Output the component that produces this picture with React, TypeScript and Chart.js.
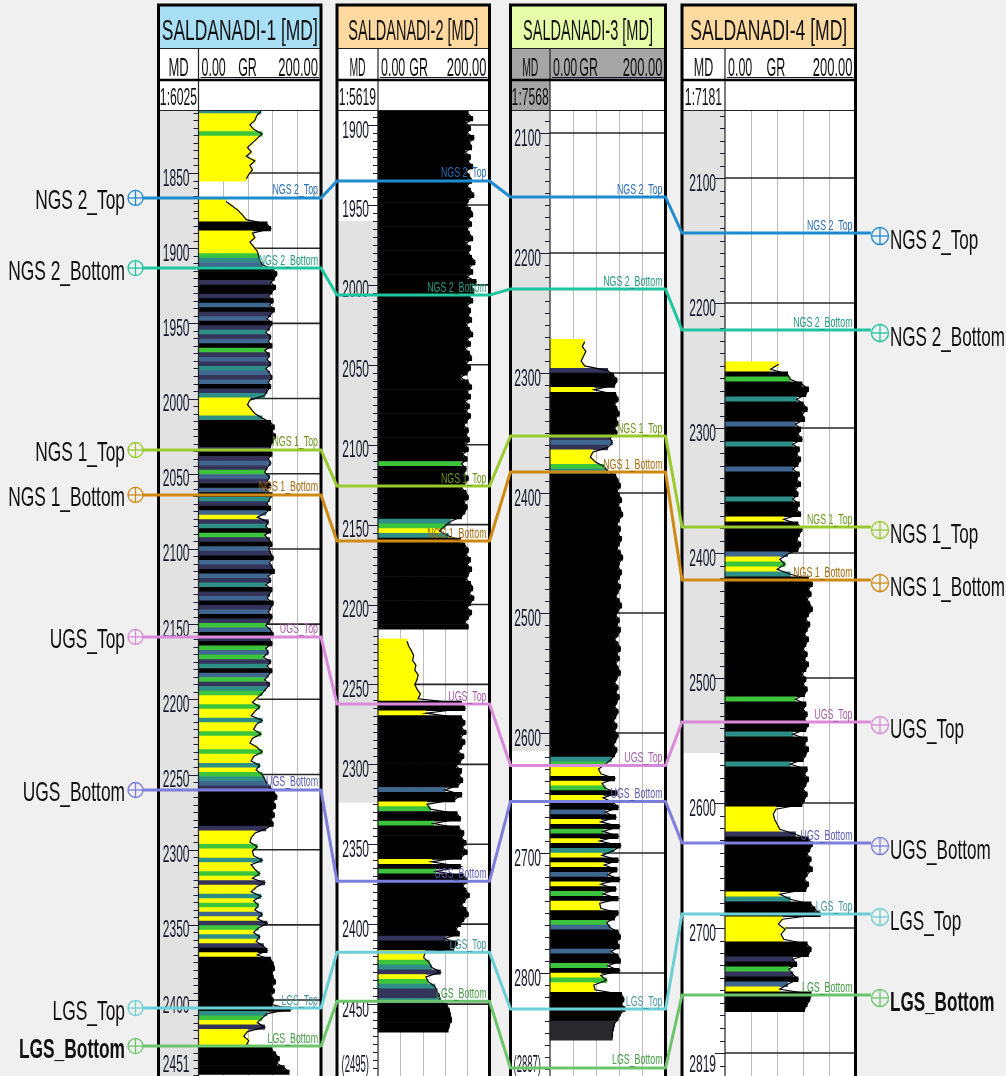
import React, { useEffect, useRef } from 'react';
import { Chart, registerables } from 'chart.js';

Chart.register(...registerables);

// ---------------- data ----------------
const WELL_NAMES = ['SALDANADI-1 [MD]', 'SALDANADI-2 [MD]', 'SALDANADI-3 [MD]', 'SALDANADI-4 [MD]'];
const WELL_SCALE_TEXT = ['1:6025', '1:5619', '1:7568', '1:7181'];
const DEPTH_TOP = [1808.1, 1890.6, 2080.8, 2045.6];
const DEPTH_BOTTOM = [2450.5, 2495.0, 2885.8, 2818.4];
const BOTTOM_LABEL = ['2451', '(2495)', '(2887)', '2819'];
const W1_TICKS = [1850, 1900, 1950, 2000, 2050, 2100, 2150, 2200, 2250, 2300, 2350, 2400];
const W2_TICKS = [1900, 1950, 2000, 2050, 2100, 2150, 2200, 2250, 2300, 2350, 2400, 2450];
const W3_TICKS = [2100, 2200, 2300, 2400, 2500, 2600, 2700, 2800];
const W4_TICKS = [2100, 2200, 2300, 2400, 2500, 2600, 2700, 2800];
const MINOR_STEP = [5, 5, 10, 10];
const MD_SHADE = [[1808, 2451], [1960, 2324], [2080, 2615], [2045, 2560]];
const GR_MIN = 0;
const GR_MAX = 200;
const GR_GRID = [40, 80, 120, 160];

const LOG_START = [1809, 1893, 2274, 2249];
const LOG_STEP = [3, 3, 4, 4];

const W1_GR = [
  102, 95, 92, 84, 90, 104, 96, 88, 80, 86,
  78, 92, 84, 88, 82, 78, null, null, null, null,
  45, 55, 65, 72, 78, 112, 118, 88, 92, 84,
  90, 96, 98, 100, 104, 122, 128, 124, 118, 126,
  120, 114, 122, 116, 124, 118, 112, 120, 116, 110,
  118, 114, 120, 108, 116, 112, 118, 110, 116, 120,
  114, 118, 112, 108, 84, 80, 86, 92, 104, 118,
  124, 120, 126, 122, 118, 116, 120, 114, 118, 112,
  108, 116, 112, 118, 110, 120, 116, 112, 118, 110,
  96, 114, 110, 118, 108, 116, 120, 114, 118, 122,
  116, 120, 124, 114, 118, 110, 120, 116, 112, 122,
  118, 114, 120, 116, 110, 118, 122, 116, 120, 110,
  114, 106, 118, 112, 120, 114, 108, 116, 110, 104,
  96, 88, 100, 92, 86, 104, 94, 90, 102, 88,
  84, 96, 104, 90, 86, 100, 94, 104, 108, 112,
  118, 124, 128, 122, 126, 120, 124, 118, 122, 110,
  92, 86, 84, 96, 88, 90, 104, 86, 92, 100,
  88, 108, 94, 86, 102, 90, 98, 92, 104, 96,
  112, 98, 90, 100, 94, 106, 112, 96, 118, 122,
  124, 120, 122, 126, 120, 124, 118, 122, 120, 150,
  112, 104, 96, 108, 80, 74, 82, 78, 120, 126,
  132, 128, 140, 148,
];
const W1_FACIES =
  'TYYYYGYYYY' + 'YYYYYYYYYY' + 'YYYYYKKYYY' + 'YYGTBKKKNK' + 'KNKBKNBKNT' +
  'NBKGNBNTBN' + 'BKNTYYYYTK' + 'KKKKKNKNBN' + 'GBNKBKTNKB' + 'YNTKGNKBNK' +
  'BNKBNTKNBK' + 'NBKNGBKNKG' + 'BGNTKBGNTG' + 'YYGYYTYYGY' + 'YYGYYTYGTB' +
  'NKKKKKKKKN' + 'YYYGYYTYYG' + 'YNYYTYGYBY' + 'NGYTYNKYKK' + 'KKKKKKKKKK' +
  'TGYNYYYYKK' + 'KKKK';

const W2_GR = [
  162, 170, 158, 166, 160, 172, 164, 168, 156, 166,
  162, 170, 158, 164, 168, 160, 166, 172, 162, 158,
  166, 170, 162, 168, 160, 164, 170, 158, 166, 162,
  168, 174, 164, 170, 160, 176, 168, 172, 164, 170,
  160, 166, 162, 168, 158, 164, 170, 160, 166, 156,
  164, 168, 158, 166, 160, 148, 162, 168, 160, 166,
  156, 164, 158, 166, 160, 154, 162, 158, 164, 156,
  162, 152, 160, 150, 158, 154, 162, 156, 150, 158,
  162, 154, 160, 156, 150, 130, 120, 110, 126, 148,
  156, 162, 158, 166, 160, 168, 162, 158, 166, 170,
  164, 172, 166, 160, 168, 162, 156, 162, null, null,
  52, 55, 60, 64, 62, 68, 66, 72, 70, 66,
  70, 76, 72, 150, 156, 86, 150, 156, 150, 158,
  148, 156, 150, 144, 154, 148, 140, 150, 146, 152,
  144, 120, 150, 138, 88, 94, 142, 148, 100, 146,
  154, 150, 158, 152, 160, 150, 96, 148, 104, 154,
  160, 152, 158, 164, 156, 150, 158, 162, 154, 148,
  140, 146, 120, 142, 136, 84, 82, 92, 96, 112,
  86, 90, 102, 106, 110, 112, 124, 128, 130, 132,
  128, 126,
];
const W2_FACIES =
  'KKKKKKKKKK' + 'KKKKKKKKKK' + 'KKKKKKKKKK' + 'KKKKKKKKKK' + 'KKKKKKKKKK' +
  'KKKKKKKKKK' + 'KKKKKKKKKK' + 'KKKGKKKKKK' + 'KKKKKTGYTK' + 'KKKKKKKKKK' +
  'KKKKKKKKKK' + 'YYYYYYYYYY' + 'YYYKKYKKKK' + 'KKKKKKKKKK' + 'KBKKYGKKGK' +
  'KKKKKKYKGK' + 'KKKKKKKKKK' + 'KKNKKYYGTN' + 'YGTNNTKKKK' + 'KK';

const W3_GR = [
  60, 56, 62, 58, 54, 60, 100, 110, 116, 112,
  76, 114, 118, 112, 116, 120, 114, 118, 112, 116,
  104, 108, 100, 74, 70, 78, 94, 100, 114, 118,
  122, 116, 120, 124, 118, 122, 126, 120, 116, 122,
  118, 124, 120, 116, 122, 126, 120, 118, 124, 120,
  116, 122, 118, 114, 120, 124, 118, 114, 120, 116,
  122, 118, 112, 118, 122, 116, 120, 114, 118, 122,
  116, 112, 118, 114, 120, 116, 112, 118, 114, 110,
  116, 112, 118, 114, 110, 116, 112, 106, 96, 84,
  88, 112, 90, 96, 116, 92, 110, 118, 96, 114,
  88, 120, 92, 118, 86, 122, 110, 90, 118, 94,
  116, 100, 120, 88, 114, 92, 118, 86, 88, 118,
  112, 98, 104, 118, 122, 116, 120, 106, 118, 122,
  100, 120, 88, 98, 76, 78, 124, 128, 124, 130,
  122, 118, 112, 110, 108, 108,
];
const W3_FACIES =
  'YYYYYYNKKK' + 'YKKKKKKKKK' + 'NBNYYYGTKK' + 'KKKKKKKKKK' + 'KKKKKKKKKK' +
  'KKKKKKKKKK' + 'KKKKKKKKKK' + 'KKKKKKKKKK' + 'KKKKKKKTGY' + 'YKYGKYKKBK' +
  'YKGKYKTYKY' + 'KBKYKGKYYK' + 'KGBKKKKBKK' + 'GKYGYYKKKK' + 'KKDDDD';

const W4_GR = [
  82, 70, 96, 100, 118, 128, 124, 110, 120, 126,
  118, 122, 108, 116, 112, 118, 104, 114, 110, 116,
  112, 104, 114, 110, 116, 108, 112, 104, 114, 110,
  116, 90, 112, 118, 114, 110, 116, 112, 96, 84,
  92, 80, 100, 128, 134, 128, 132, 126, 130, 134,
  128, 124, 130, 126, 122, 128, 124, 120, 126, 122,
  128, 124, 118, 124, 120, 126, 122, 108, 124, 120,
  126, 122, 128, 124, 104, 126, 122, 128, 124, 120,
  100, 126, 122, 128, 124, 120, 126, 122, 118, 78,
  74, 76, 80, 84, 108, 128, 134, 130, 126, 132,
  128, 134, 126, 122, 128, 124, 84, 100, 132, 138,
  146, 88, 82, 92, 86, 90, 126, 132, 128, 104,
  110, 98, 104, 112, 96, 84, 132, 130, 126, 122,
];
const W4_FACIES =
  'YYKGKKKTKK' + 'KKBKKKTKKK' + 'KBKKKKKTKK' + 'KYKKKKKKBY' + 'GYTKKKKKKK' +
  'KKKKKKKKKK' + 'KKKKKKKGKK' + 'KKKKTKKKKK' + 'TKKKKKKKKY' + 'YYYYNKKKKK' +
  'KKKKKKYTKK' + 'KYYYYYKKKN' + 'KGNKBYKKKK';

const TOP_NAMES = ['NGS 2_Top', 'NGS 2_Bottom', 'NGS 1_Top', 'NGS 1_Bottom', 'UGS_Top', 'UGS_Bottom', 'LGS_Top', 'LGS_Bottom'];
const TOP_W1 = [1866.6, 1913.2, 2034.2, 2064.1, 2158.5, 2260.3, 2405.3, 2430.6];
const TOP_W2 = [1935.0, 2006.4, 2125.9, 2160.3, 2262.3, 2373.1, 2417.5, 2448.2];
const TOP_W3 = [2153.3, 2230.0, 2352.5, 2382.5, 2627.0, 2657.0, 2830.0, 2879.1];
const TOP_W4 = [2144.0, 2221.6, 2379.2, 2421.6, 2535.2, 2632.0, 2688.8, 2753.6];

// ---------------- styles / layout ----------------
const CANVAS_W = 1006;
const CANVAS_H = 1076;
const FONT = '"Liberation Sans", Arial, sans-serif';
const HEAD_TOP = 5;
const ROW1 = 48;
const ROW2 = 80;
const LOG_TOP = 110;

const TRACK = [
  { left: 158.5, md: 198.5, right: 321 },
  { left: 337, md: 378, right: 489.5 },
  { left: 510.5, md: 550, right: 665.5 },
  { left: 682, md: 725, right: 855.5 },
];
const TITLE_BG = ['#a9dff4', '#fdd9a0', '#e6fca8', '#fddaa0'];
const TITLE_W = [156, 130, 130, 157];
const GR_LABEL_POS = [0.4, 0.365, 0.335, 0.39];
const MD_SX = [0.5, 0.4, 0.4, 0.48];
const FACIES_COLORS: Record<string, string> = {
  Y: '#ffff00', G: '#3dc43d', T: '#2e8f86', B: '#40678f', N: '#34345a', D: '#2a2a2e', K: '#000000',
};
const TOP_COLORS = ['#1e8ccf', '#1fc59c', '#9acb2e', '#cf8a14', '#d98ad9', '#7d7ddb', '#6ccfd6', '#6cc56c'];
const TOP_TEXT = ['#2a6fb3', '#229a80', '#6c961c', '#a66a0c', '#a860a8', '#5a5ab0', '#4a9aa2', '#459a45'];
const TOP_BOLD = [false, false, false, false, false, false, false, true];

const WELL_GR = [W1_GR, W2_GR, W3_GR, W4_GR];
const WELL_FACIES = [W1_FACIES, W2_FACIES, W3_FACIES, W4_FACIES];
const WELL_TICKS = [W1_TICKS, W2_TICKS, W3_TICKS, W4_TICKS];
const WELL_TOPS = [TOP_W1, TOP_W2, TOP_W3, TOP_W4];

function drawText(ctx: CanvasRenderingContext2D, s: string, x: number, y: number, size: number, sx: number,
  align: CanvasTextAlign, color: string, bold = false) {
  ctx.save();
  ctx.font = `${bold ? 'bold ' : ''}${size}px ${FONT}`;
  ctx.fillStyle = color;
  ctx.textAlign = align;
  ctx.textBaseline = 'alphabetic';
  ctx.translate(x, y);
  ctx.scale(sx, 1);
  ctx.fillText(s, 0, 0);
  ctx.restore();
}

function measure(ctx: CanvasRenderingContext2D, s: string, size: number) {
  ctx.save();
  ctx.font = `${size}px ${FONT}`;
  const w = ctx.measureText(s).width;
  ctx.restore();
  return w;
}

function seg(ctx: CanvasRenderingContext2D, x1: number, y1: number, x2: number, y2: number) {
  ctx.beginPath();
  ctx.moveTo(x1, y1);
  ctx.lineTo(x2, y2);
  ctx.stroke();
}

const decorPlugin = {
  id: 'wellDecor',
  beforeDraw(chart: any) {
    const ctx: CanvasRenderingContext2D = chart.ctx;
    ctx.save();
    ctx.fillStyle = '#f0f0f0';
    ctx.fillRect(0, 0, CANVAS_W, CANVAS_H);
    TRACK.forEach((t, k) => {
      const ys = chart.scales['y' + k];
      const xs = chart.scales['x' + k];
      ctx.fillStyle = '#ffffff';
      ctx.fillRect(t.left, LOG_TOP, t.right - t.left, CANVAS_H - LOG_TOP);
      const ya = Math.max(LOG_TOP, ys.getPixelForValue(MD_SHADE[k][0]));
      const yb = Math.min(CANVAS_H, ys.getPixelForValue(MD_SHADE[k][1]));
      ctx.fillStyle = '#e2e2e2';
      ctx.fillRect(t.left, ya, t.md - t.left, yb - ya);
      ctx.strokeStyle = '#bdbdbd';
      ctx.lineWidth = 1;
      GR_GRID.forEach((g) => {
        const x = Math.round(xs.getPixelForValue(g)) + 0.5;
        seg(ctx, x, LOG_TOP, x, CANVAS_H);
      });
      ctx.strokeStyle = '#262626';
      ctx.lineWidth = 1.6;
      WELL_TICKS[k].forEach((d) => {
        const y = ys.getPixelForValue(d);
        if (y < LOG_TOP || y > CANVAS_H) return;
        seg(ctx, t.md, y, t.right, y);
      });
    });
    ctx.restore();
  },
  afterDatasetsDraw(chart: any) {
    const ctx: CanvasRenderingContext2D = chart.ctx;
    ctx.save();
    TRACK.forEach((t, k) => {
      const ys = chart.scales['y' + k];
      const w = t.right - t.left;
      // header backgrounds
      ctx.fillStyle = TITLE_BG[k];
      ctx.fillRect(t.left, HEAD_TOP, w, ROW1 - HEAD_TOP);
      ctx.fillStyle = k === 2 ? '#a6a6a6' : '#ffffff';
      ctx.fillRect(t.left, ROW1, w, ROW2 - ROW1);
      ctx.fillStyle = '#ffffff';
      ctx.fillRect(t.left, ROW2, w, LOG_TOP - ROW2);
      if (k === 2) {
        ctx.fillStyle = '#a6a6a6';
        ctx.fillRect(t.left, ROW2, t.md - t.left, LOG_TOP - ROW2);
      }
      // header texts
      const title = WELL_NAMES[k];
      drawText(ctx, title, (t.left + t.right) / 2, 40, 29, TITLE_W[k] / measure(ctx, title, 29), 'center', '#111111');
      drawText(ctx, 'MD', (t.left + t.md) / 2, 76, 26, MD_SX[k], 'center', '#111111');
      drawText(ctx, '0.00', t.md + 3, 76, 26, 0.48, 'left', '#111111');
      drawText(ctx, 'GR', t.md + (t.right - t.md) * GR_LABEL_POS[k], 76, 26, 0.48, 'center', '#111111');
      drawText(ctx, '200.00', t.right - 3, 76, 26, 0.5, 'right', '#111111');
      ctx.strokeStyle = '#1a1a30';
      ctx.lineWidth = 1;
      seg(ctx, t.md + 2, 77.5, t.right - 2, 77.5);
      drawText(ctx, WELL_SCALE_TEXT[k], (t.left + t.md) / 2, 105, 23, 0.53, 'center', '#111111');
      // depth ticks
      ctx.strokeStyle = '#1c1c3a';
      ctx.lineWidth = 1;
      const step = MINOR_STEP[k];
      const first = Math.ceil(DEPTH_TOP[k] / step) * step;
      for (let d = first; d <= DEPTH_BOTTOM[k]; d += step) {
        const y = Math.round(ys.getPixelForValue(d)) + 0.5;
        const major = WELL_TICKS[k].includes(d);
        seg(ctx, t.md - (major ? 10 : 5), y, t.md, y);
      }
      WELL_TICKS[k].forEach((d) => {
        const y = ys.getPixelForValue(d);
        if (y < LOG_TOP + 5 || y > CANVAS_H - 26) return;
        drawText(ctx, String(d), t.md - 9, y + 12.5, 24, 0.5, 'right', '#16162a');
      });
      const bl = BOTTOM_LABEL[k];
      drawText(ctx, bl, t.md - 9, CANVAS_H - 4, 24, Math.min(0.5, 27.5 / measure(ctx, bl, 24)), 'right', '#16162a');
      // frame and dividers
      ctx.strokeStyle = '#222222';
      ctx.lineWidth = 1;
      seg(ctx, t.left, ROW1 + 0.5, t.right, ROW1 + 0.5);
      seg(ctx, t.left, LOG_TOP + 0.5, t.right, LOG_TOP + 0.5);
      ctx.lineWidth = 1.2;
      seg(ctx, t.md, ROW1, t.md, CANVAS_H);
      ctx.strokeStyle = '#000000';
      ctx.lineWidth = 2.5;
      seg(ctx, t.left, ROW2, t.right, ROW2);
      ctx.lineWidth = 3;
      ctx.strokeRect(t.left, HEAD_TOP, w, CANVAS_H + 10);
    });

    // correlation lines
    TOP_NAMES.forEach((name, j) => {
      const ys = TRACK.map((_, k) => chart.scales['y' + k].getPixelForValue(WELL_TOPS[k][j]));
      ctx.strokeStyle = TOP_COLORS[j];
      ctx.lineWidth = 3;
      ctx.lineJoin = 'round';
      ctx.beginPath();
      ctx.moveTo(143, ys[0]);
      ctx.lineTo(TRACK[0].right, ys[0]);
      for (let k = 1; k < TRACK.length; k++) {
        ctx.lineTo(TRACK[k].left, ys[k]);
        ctx.lineTo(TRACK[k].right, ys[k]);
      }
      ctx.lineTo(871, ys[3]);
      ctx.stroke();

      // in-track labels
      TRACK.forEach((t, k) => {
        drawText(ctx, name, t.right - 3, ys[k] - 3.5, 14, 0.63, 'right', TOP_TEXT[j]);
      });

      // markers + outer labels
      const drawMarker = (cx: number, cy: number, r: number) => {
        ctx.strokeStyle = TOP_COLORS[j];
        ctx.lineWidth = 1.3;
        ctx.beginPath();
        ctx.arc(cx, cy, r, 0, Math.PI * 2);
        ctx.stroke();
        seg(ctx, cx - r, cy, cx + r, cy);
        seg(ctx, cx, cy - r, cx, cy + r);
      };
      drawMarker(135.5, ys[0], 7.5);
      drawText(ctx, name, 125, ys[0] + 11.5, 28, 0.62, 'right', '#111111', TOP_BOLD[j]);
      drawMarker(880, ys[3] + 3, 8.5);
      drawText(ctx, name, 890, ys[3] + 16, 28, 0.61, 'left', '#111111', TOP_BOLD[j]);
    });
    ctx.restore();
  },
};

export default function App() {
  const ref = useRef<HTMLCanvasElement>(null);
  useEffect(() => {
    document.body.style.margin = '0';
    const scales: any = {};
    TRACK.forEach((t, k) => {
      const pxPerGR = (t.right - t.md) / (GR_MAX - GR_MIN);
      scales['x' + k] = {
        type: 'linear', axis: 'x', display: false, bounds: 'data', offset: false,
        min: GR_MIN - t.md / pxPerGR, max: GR_MIN + (CANVAS_W - t.md) / pxPerGR,
      };
      scales['y' + k] = {
        type: 'linear', axis: 'y', display: false, bounds: 'data', offset: false, reverse: true,
        min: DEPTH_TOP[k], max: DEPTH_BOTTOM[k],
      };
    });
    const datasets: any[] = [];
    WELL_GR.forEach((gr, k) => {
      const pts = gr.map((g, i) => ({ x: g, y: LOG_START[k] + i * LOG_STEP[k] }));
      datasets.push({
        type: 'bar', indexAxis: 'y', xAxisID: 'x' + k, yAxisID: 'y' + k, data: pts,
        backgroundColor: pts.map((_, i) => FACIES_COLORS[WELL_FACIES[k][i]] || '#000000'),
        borderWidth: 0, barPercentage: 1, categoryPercentage: 1, grouped: false, order: 2,
      });
      datasets.push({
        type: 'line', indexAxis: 'y', xAxisID: 'x' + k, yAxisID: 'y' + k, data: pts,
        borderColor: '#000000', borderWidth: 1.2, pointRadius: 0, fill: false, tension: 0,
        spanGaps: false, order: 1,
      });
    });
    const chart = new Chart(ref.current as HTMLCanvasElement, {
      type: 'bar',
      data: { datasets },
      options: {
        animation: false,
        responsive: false,
        devicePixelRatio: 1,
        layout: { padding: { top: LOG_TOP, left: 0, right: 0, bottom: 0 } },
        scales,
        plugins: { legend: { display: false }, tooltip: { enabled: false } },
        events: [],
      } as any,
      plugins: [decorPlugin],
    });
    return () => chart.destroy();
  }, []);
  return (
    <div style={{ position: 'absolute', left: 0, top: 0, width: CANVAS_W, height: CANVAS_H }}>
      <canvas ref={ref} width={CANVAS_W} height={CANVAS_H} style={{ display: 'block', width: CANVAS_W, height: CANVAS_H }} />
    </div>
  );
}
